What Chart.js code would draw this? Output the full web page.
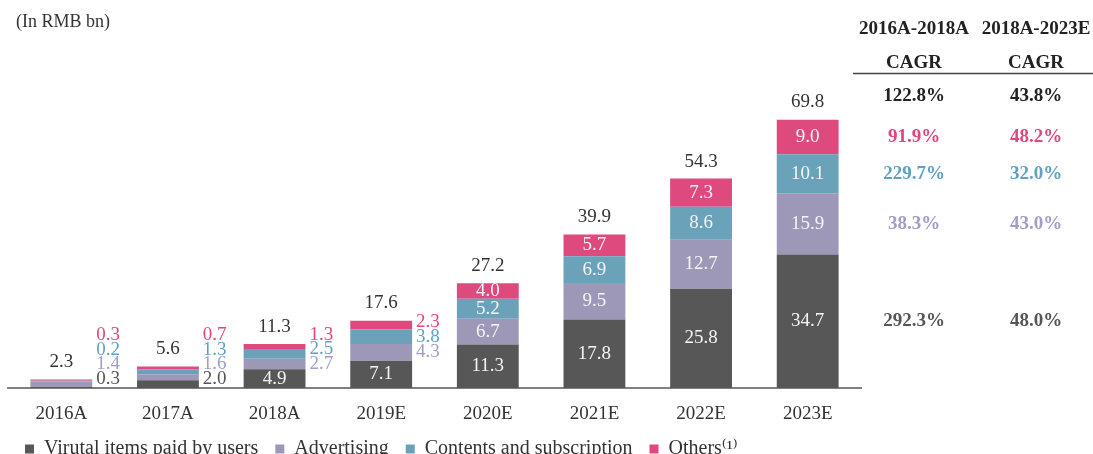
<!DOCTYPE html>
<html>
<head>
<meta charset="utf-8">
<script src="https://cdn.jsdelivr.net/npm/chart.js@4.4.1/dist/chart.umd.min.js"></script>
<style>
  html, body { margin: 0; padding: 0; background: #fff; overflow: hidden; }
  #wrap { position: relative; width: 1093px; height: 469px; }
</style>
</head>
<body>
<div id="wrap"><canvas id="myChart"></canvas></div>
<script>
// data (RMB bn)
var years = ['2016A', '2017A', '2018A', '2019E', '2020E', '2021E', '2022E', '2023E'];
var virtualItems = [0.3, 2.0, 4.9, 7.1, 11.3, 17.8, 25.8, 34.7];
var advertising = [1.4, 1.6, 2.7, 4.3, 6.7, 9.5, 12.7, 15.9];
var contents = [0.2, 1.3, 2.5, 3.8, 5.2, 6.9, 8.6, 10.1];
var others = [0.3, 0.7, 1.3, 2.3, 4.0, 5.7, 7.3, 9.0];
var totals = [2.3, 5.6, 11.3, 17.6, 27.2, 39.9, 54.3, 69.8];

// CAGR table: total, others, contents, advertising, virtual items
var cagrHeads = ['2016A-2018A', '2018A-2023E'];
var cagr1618 = ['122.8%', '91.9%', '229.7%', '38.3%', '292.3%'];
var cagr1823 = ['43.8%', '48.2%', '32.0%', '43.0%', '48.0%'];

var serif = "'Liberation Serif', 'Times New Roman', 'DejaVu Serif', serif";
var barColors = ['#575757', '#9d98b8', '#6aa2ba', '#df4a7e'];
var textColors = ['#555555', '#a19dc9', '#5fa0c4', '#e2467c'];
var rowColors = ['#222222', '#e2467c', '#5fa0c4', '#a19dc9', '#555555'];

var labelsPlugin = {
    id: 'segmentLabels',
    afterDatasetsDraw: function (chart) {
        var ctx = chart.ctx;
        var y = chart.scales.y;
        var bottom = chart.chartArea.bottom;
        ctx.save();
        ctx.font = '19px ' + serif;
        ctx.textBaseline = 'middle';
        for (var i = 0; i < years.length; i++) {
            var last = null;
            for (var d = 0; d < 4; d++) {
                var el = chart.getDatasetMeta(d).data[i];
                var v = chart.data.datasets[d].data[i];
                var cy = (el.y + el.base) / 2;
                if (totals[i] >= 20 || v >= 4.5) {
                    ctx.fillStyle = '#f4f4f4';
                    ctx.textAlign = 'center';
                    ctx.fillText(v.toFixed(1), el.x, cy);
                    last = cy;
                } else {
                    // small segments: label to the right, pushed apart so they don't overlap too much
                    var ly = Math.min(cy, bottom - 9);
                    if (last !== null) ly = Math.min(ly, last - 14.5);
                    ctx.fillStyle = textColors[d];
                    ctx.textAlign = 'left';
                    ctx.fillText(v.toFixed(1), el.x + el.width / 2 + 4, ly);
                    last = ly;
                }
            }
            ctx.fillStyle = '#333';
            ctx.textAlign = 'center';
            ctx.fillText(totals[i].toFixed(1), chart.getDatasetMeta(0).data[i].x, y.getPixelForValue(totals[i]) - 17);
        }
        ctx.restore();
    },
    afterDraw: function (chart) {
        var ctx = chart.ctx;
        ctx.save();
        ctx.fillStyle = '#333';
        ctx.font = '18px ' + serif;
        ctx.textAlign = 'left';
        ctx.textBaseline = 'middle';
        ctx.fillText('(In RMB bn)', 16, 22);

        // CAGR table
        var cols = [914, 1036];
        ctx.font = 'bold 19px ' + serif;
        ctx.textAlign = 'center';
        ctx.fillStyle = '#222';
        ctx.fillText(cagrHeads[0], cols[0], 29);
        ctx.fillText(cagrHeads[1], cols[1], 29);
        ctx.fillText('CAGR', cols[0], 63);
        ctx.fillText('CAGR', cols[1], 63);
        ctx.strokeStyle = '#444';
        ctx.lineWidth = 1.5;
        ctx.beginPath();
        ctx.moveTo(853, 73.5);
        ctx.lineTo(1093, 73.5);
        ctx.stroke();

        // rows line up with the segments of the last bar
        var n = years.length - 1;
        var rows = [96];
        for (var d = 3; d >= 0; d--) {
            var el = chart.getDatasetMeta(d).data[n];
            rows.push((el.y + el.base) / 2);
        }
        for (var r = 0; r < rows.length; r++) {
            ctx.fillStyle = rowColors[r];
            ctx.fillText(cagr1618[r], cols[0], rows[r]);
            ctx.fillText(cagr1823[r], cols[1], rows[r]);
        }
        ctx.restore();
    }
};

var ctx = document.getElementById('myChart').getContext('2d');
var myChart = new Chart(ctx, {
    type: 'bar',
    data: {
        labels: years,
        datasets: [
            { label: 'Virutal items paid by users', data: virtualItems, backgroundColor: barColors[0] },
            { label: 'Advertising', data: advertising, backgroundColor: barColors[1] },
            { label: 'Contents and subscription', data: contents, backgroundColor: barColors[2] },
            { label: 'Others\u207D\u00B9\u207E', data: others, backgroundColor: barColors[3] }
        ]
    },
    options: {
        responsive: true,
        maintainAspectRatio: false,
        animation: false,
        layout: { padding: { left: 8, right: 232, top: 80, bottom: 0 } },
        datasets: { bar: { categoryPercentage: 1, barPercentage: 0.58 } },
        scales: {
            x: {
                stacked: true,
                grid: { display: false, drawTicks: false, tickLength: 0 },
                border: { display: true, color: '#808080', width: 2 },
                ticks: { color: '#333', padding: 16.5, font: { family: serif, size: 19, lineHeight: 1 } },
                afterFit: function (scale) { scale.height = 34; }
            },
            y: {
                stacked: true,
                display: false,
                min: 0,
                max: 80
            }
        },
        plugins: {
            legend: {
                position: 'bottom',
                align: 'start',
                labels: {
                    boxWidth: 9,
                    boxHeight: 9,
                    padding: 17,
                    color: '#333',
                    font: { family: serif, size: 20 }
                }
            },
            tooltip: { enabled: false }
        }
    },
    plugins: [labelsPlugin]
});
</script>
</body>
</html>
